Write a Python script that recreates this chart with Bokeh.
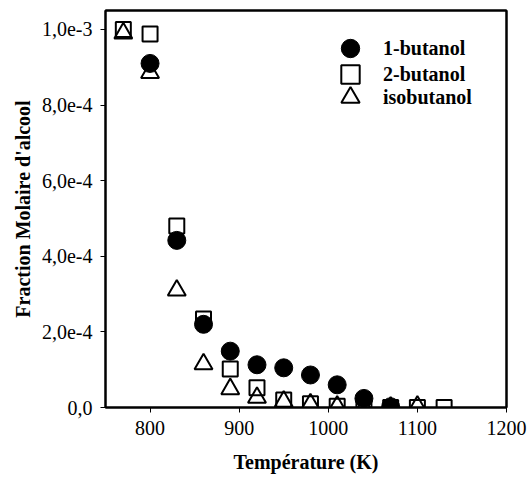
from bokeh.plotting import figure
from bokeh.models import FixedTicker, CustomJSTickFormatter, Range1d, Legend, LegendItem, LinearAxis
from bokeh.embed import file_html
from bokeh.resources import INLINE

# data
temp_1but = [800, 830, 860, 890, 920, 950, 980, 1010, 1040, 1070]
frac_1but = [9.1e-4, 4.42e-4, 2.2e-4, 1.49e-4, 1.13e-4, 1.05e-4, 0.86e-4, 0.6e-4, 0.24e-4, 0.02e-4]

temp_2but = [770, 800, 830, 860, 890, 920, 950, 980, 1010, 1040, 1070, 1100, 1130]
frac_2but = [1.0e-3, 9.88e-4, 4.8e-4, 2.34e-4, 1.02e-4, 0.52e-4, 0.2e-4, 0.1e-4, 0.03e-4, 0.0, 0.0, 0.0, 0.0]

temp_iso = [770, 800, 830, 860, 890, 920, 950, 980, 1010, 1040, 1070, 1100]
frac_iso = [9.9e-4, 8.85e-4, 3.1e-4, 1.15e-4, 0.49e-4, 0.26e-4, 0.16e-4, 0.09e-4, 0.03e-4, 0.0, 0.0, 0.03e-4]

series_names = ["1-butanol", "2-butanol", "isobutanol"]

x_ticks = [800, 900, 1000, 1100, 1200]
y_ticks = [0.0, 2e-4, 4e-4, 6e-4, 8e-4, 1e-3]
y_tick_labels = ["0,0", "2,0e-4", "4,0e-4", "6,0e-4", "8,0e-4", "1,0e-3"]

FONT = "Liberation Serif"
FS = "20px"

p = figure(width=529, height=486, output_backend="svg", toolbar_location=None,
           x_range=Range1d(750, 1200), y_range=Range1d(0, 1.05e-3),
           min_border_left=105, min_border_right=23, min_border_top=10, min_border_bottom=79)
p.grid.visible = False
p.outline_line_color = "black"
p.outline_line_width = 2
p.background_fill_color = "white"
p.border_fill_color = "white"

r1 = p.scatter(temp_1but, frac_1but, marker="circle", size=18, fill_color="black", line_color="black")
r2 = p.scatter(temp_2but, frac_2but, marker="square", size=15, fill_color=None, line_color="black", line_width=2)
r3 = p.scatter(temp_iso, frac_iso, marker="triangle", size=18, fill_color=None, line_color="black", line_width=2)

for ax in (p.xaxis[0], p.yaxis[0]):
    ax.axis_line_width = 2
    ax.axis_line_color = "black"
    ax.major_tick_line_color = "black"
    ax.major_tick_line_width = 1
    ax.major_tick_in = 0
    ax.major_tick_out = 5
    ax.minor_tick_line_color = None
    ax.major_label_text_font = FONT
    ax.major_label_text_font_size = FS
    ax.major_label_text_color = "black"
    ax.axis_label_text_font = FONT
    ax.axis_label_text_font_size = FS
    ax.axis_label_text_font_style = "bold"
    ax.axis_label_text_color = "black"

p.xaxis.ticker = FixedTicker(ticks=x_ticks)
p.xaxis.axis_label = "Température (K)"
p.xaxis.major_label_standoff = 8
p.xaxis.axis_label_standoff = 13

p.yaxis.ticker = FixedTicker(ticks=y_ticks)
p.yaxis.formatter = CustomJSTickFormatter(args=dict(tvals=y_ticks, tlabels=y_tick_labels), code="""
let best = 0, bd = Infinity;
for (let i = 0; i < tvals.length; i++) { const d = Math.abs(tvals[i] - tick); if (d < bd) { bd = d; best = i; } }
return tlabels[best];
""")
p.yaxis.axis_label = "Fraction Molaire d'alcool"
p.yaxis.major_label_standoff = 8
p.yaxis.axis_label_standoff = 5

# frame border on top and right
for side in ("right", "above"):
    ax = LinearAxis(ticker=FixedTicker(ticks=[]), axis_line_width=2, axis_line_color="black",
                    major_tick_line_color=None, minor_tick_line_color=None,
                    major_label_text_font_size="0px")
    p.add_layout(ax, side)

# legend: one legend per entry so rows can be tighter than the glyph box
centers_from_bottom = [359, 333, 310]
for r, name, cy in zip([r1, r2, r3], series_names, centers_from_bottom):
    lg = Legend(items=[LegendItem(label=name, renderers=[r])], location=(222, cy - 23))
    lg.glyph_width = 46
    lg.glyph_height = 46
    lg.label_height = 46
    lg.padding = 0
    lg.margin = 0
    lg.spacing = 0
    lg.label_standoff = 10
    lg.border_line_color = None
    lg.background_fill_alpha = 0
    lg.label_text_font = FONT
    lg.label_text_font_size = FS
    lg.label_text_font_style = "bold"
    lg.label_text_color = "black"
    p.add_layout(lg)

open("out.html", "w").write(file_html(p, INLINE))
